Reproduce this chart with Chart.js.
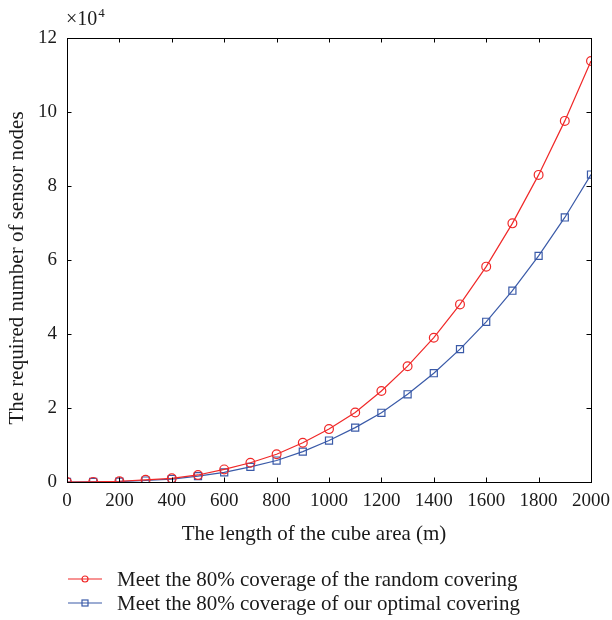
<!DOCTYPE html>
<html>
<head>
<meta charset="utf-8">
<script src="https://cdn.jsdelivr.net/npm/chart.js@4.4.0/dist/chart.umd.min.js"></script>
<style>
  html, body { margin: 0; padding: 0; background: #fff; }
  #wrap { position: relative; width: 612px; height: 620px; }
  #legend { position: absolute; left: 68px; top: 567px; font: 21px "Liberation Serif", serif; color: #1a1a1a; }
  .row { display: flex; align-items: center; height: 24px; }
  .row svg { margin-right: 15px; }
</style>
</head>
<body>
<div id="wrap">
  <canvas id="chart" width="612" height="620"></canvas>
  <div id="legend">
    <div class="row">
      <svg width="34" height="12"><line x1="0" y1="6" x2="34" y2="6" stroke="#f02828" stroke-width="1.2"/><circle cx="17" cy="6" r="3" fill="none" stroke="#f02828" stroke-width="1.2"/></svg>
      <span>Meet the 80% coverage of the random covering</span>
    </div>
    <div class="row">
      <svg width="34" height="12"><line x1="0" y1="6" x2="34" y2="6" stroke="#3a5aa8" stroke-width="1.2"/><rect x="14" y="3" width="6" height="6" fill="none" stroke="#3a5aa8" stroke-width="1.2"/></svg>
      <span>Meet the 80% coverage of our optimal covering</span>
    </div>
  </div>
</div>
<script>
// cube edge length (m)
const lengths = [0, 100, 200, 300, 400, 500, 600, 700, 800, 900, 1000,
  1100, 1200, 1300, 1400, 1500, 1600, 1700, 1800, 1900, 2000];
// required nodes, random covering
const randomNodes = [0, 30, 200, 600, 1000, 1900, 3400, 5200, 7500, 10600, 14300,
  18800, 24600, 31300, 39000, 48000, 58200, 69900, 83000, 97600, 113800];
// required nodes, optimal covering
const optimalNodes = [0, 20, 100, 400, 800, 1600, 2600, 4100, 5800, 8200, 11200,
  14700, 18700, 23700, 29400, 35900, 43300, 51700, 61100, 71500, 83100];

const RED = '#f02828';
const BLUE = '#3a5aa8';
const FONT = '"Liberation Serif", serif';
const INK = '#1a1a1a';

// box around plot, inward tick marks, axis titles and the x10^4 label
const framePlugin = {
  id: 'frame',
  afterDraw(chart) {
    const { ctx, chartArea: a, scales } = chart;
    ctx.save();
    ctx.strokeStyle = '#000';
    ctx.lineWidth = 1;
    ctx.strokeRect(a.left + 0.5, a.top + 0.5, a.right - a.left, a.bottom - a.top);
    const len = 4.5;
    ctx.beginPath();
    scales.x.ticks.forEach((t) => {
      const px = Math.round(scales.x.getPixelForValue(t.value)) + 0.5;
      ctx.moveTo(px, a.bottom); ctx.lineTo(px, a.bottom - len);
      ctx.moveTo(px, a.top); ctx.lineTo(px, a.top + len);
    });
    scales.y.ticks.forEach((t) => {
      const py = Math.round(scales.y.getPixelForValue(t.value)) + 0.5;
      ctx.moveTo(a.left, py); ctx.lineTo(a.left + len, py);
      ctx.moveTo(a.right, py); ctx.lineTo(a.right - len, py);
    });
    ctx.stroke();

    ctx.fillStyle = INK;
    ctx.textBaseline = 'alphabetic';
    ctx.font = '20px ' + FONT;
    ctx.fillText('\u00d710', 66, 25);
    const w = ctx.measureText('\u00d710').width;
    ctx.font = '13px ' + FONT;
    ctx.fillText('4', 66 + w + 1, 17);

    // axis titles
    ctx.font = '21px ' + FONT;
    ctx.textAlign = 'center';
    ctx.fillText('The length of the cube area (m)', 314, 540);
    ctx.translate(23, 268);
    ctx.rotate(-Math.PI / 2);
    ctx.fillText('The required number of sensor nodes', 0, 0);
    ctx.restore();
  },
};

new Chart(document.getElementById('chart'), {
  type: 'line',
  data: {
    labels: lengths,
    datasets: [
      {
        label: 'Meet the 80% coverage of the random covering',
        data: lengths.map((x, i) => ({ x, y: randomNodes[i] })),
        borderColor: RED,
        borderWidth: 1.2,
        pointStyle: 'circle',
        pointRadius: 4.4,
        pointBorderWidth: 1.2,
        pointBackgroundColor: 'rgba(0,0,0,0)',
        pointBorderColor: RED,
        tension: 0,
        fill: false,
      },
      {
        label: 'Meet the 80% coverage of our optimal covering',
        data: lengths.map((x, i) => ({ x, y: optimalNodes[i] })),
        borderColor: BLUE,
        borderWidth: 1.2,
        pointStyle: 'rect',
        pointRadius: 5,
        pointBorderWidth: 1.2,
        pointBackgroundColor: 'rgba(0,0,0,0)',
        pointBorderColor: BLUE,
        tension: 0,
        fill: false,
      },
    ],
  },
  options: {
    responsive: false,
    animation: false,
    layout: { padding: { top: 38, right: 0, left: 0, bottom: 76 } },
    plugins: {
      legend: { display: false },
      tooltip: { enabled: false },
    },
    scales: {
      x: {
        type: 'linear',
        min: 0,
        max: 2000,
        ticks: { stepSize: 200, color: INK, font: { family: FONT, size: 19 }, padding: 8, maxRotation: 0, callback: (v) => String(v) },
        grid: { display: false, drawTicks: false },
        border: { display: false },
        afterFit(s) { s.height = 62; s.paddingRight = 21; s.paddingLeft = 0; },
      },
      y: {
        type: 'linear',
        min: 0,
        max: 120000,
        ticks: { stepSize: 20000, color: INK, font: { family: FONT, size: 19 }, padding: 10, callback: (v) => String(v / 10000) },
        grid: { display: false, drawTicks: false },
        border: { display: false },
        afterFit(s) { s.width = 67; },
      },
    },
  },
  plugins: [framePlugin],
});
</script>
</body>
</html>
